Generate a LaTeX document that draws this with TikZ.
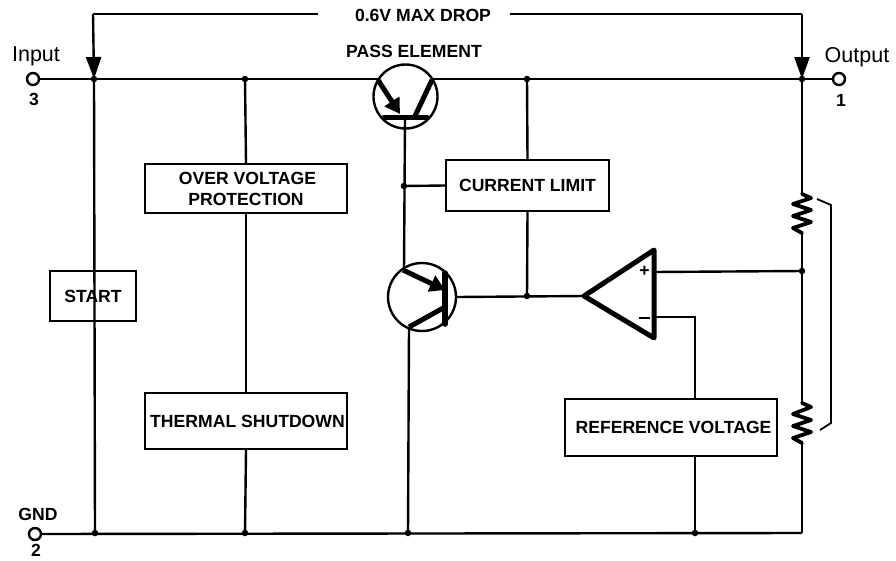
\documentclass[tikz,border=0pt]{standalone}
\usepackage{fontspec}
\setmainfont{Liberation Sans}
\usetikzlibrary{arrows.meta}
\tikzset{
  wire/.style={line width=2.4pt},
  boxed/.style={draw,line width=2.4pt,fill=white,align=center,font=\fontsize{17.6}{21}\selectfont\bfseries,inner sep=0pt},
  lbl/.style={font=\fontsize{17.6}{21}\selectfont\bfseries,inner sep=0pt},
  plain/.style={font=\fontsize{21.5}{24}\selectfont,inner sep=0pt},
  pin/.style={circle,draw,line width=2.4pt,fill=white,minimum size=12pt,inner sep=0pt},
  jn/.style={circle,fill=black,minimum size=6.5pt,inner sep=0pt},
  heavy/.style={line width=5pt},
  res/.style={line width=3.8pt,line join=round,line cap=round},
  tip/.style={-{Triangle[length=22pt,width=15pt]}}
}
\begin{document}
\begin{tikzpicture}[x=1pt,y=-1pt]
\useasboundingbox (0,0) rectangle (896,560);
% coordinates
\coordinate (jIn) at (94,79);
\coordinate (jOv) at (245,79);
\coordinate (jCl) at (527,79);
\coordinate (jOut) at (802,79);
\coordinate (jBase) at (404,186);
\coordinate (jAmp) at (527,296);
\coordinate (jPlus) at (802,271);
\coordinate (gStart) at (95,533);
\coordinate (gOv) at (245,533);
\coordinate (gQ) at (408,533);
\coordinate (gRef) at (695,533);
\coordinate (gEnd) at (802,533);
\coordinate (tL) at (93,14);
\coordinate (tR) at (802,14);
\coordinate (tA) at (318,14);
\coordinate (tB) at (510,14);
% pins
\node[pin] (pIn) at (33,79) {};
\node[pin] (pOut) at (839,79) {};
\node[pin] (pGnd) at (35,534) {};
% boxes
\node[boxed,minimum width=86pt,minimum height=50pt] (start) at (93,296) {START};
\node[boxed,minimum width=202pt,minimum height=49pt] (ovp) at (246,188.5) {\kern3pt OVER VOLTAGE\\PROTECTION};
\node[boxed,minimum width=202pt,minimum height=56pt] (thermal) at (246,421) {\kern3pt THERMAL SHUTDOWN};
\node[boxed,minimum width=163pt,minimum height=51pt] (climit) at (527.5,185.5) {CURRENT LIMIT};
\node[boxed,minimum width=212pt,minimum height=57pt] (vref) at (671,427.5) {\kern5pt REFERENCE VOLTAGE};
% transistors
\node[circle,draw,line width=2.4pt,minimum size=64pt,inner sep=0pt] (q1) at (405.5,96.5) {};
\node[circle,draw,line width=2.4pt,minimum size=68pt,inner sep=0pt] (q2) at (422,297) {};
% amplifier
\coordinate (aTop) at (654,250);
\coordinate (aBot) at (654,338);
\coordinate (aApex) at (584,296);
\coordinate (aP) at (654,272);
\coordinate (aM) at (654,317);
% transistor 1 points
\coordinate (b1) at (405,117);
\coordinate (e1a) at (378,80);
\coordinate (e1b) at (400,114);
\coordinate (c1a) at (415,116);
\coordinate (c1b) at (432,80);
% main wires
\draw[wire] (pIn) -- (jIn) -- (e1a |- jIn);
\draw[wire] (c1b |- jCl) -- (jCl) -- (jOut) -- (pOut);
\draw[wire] (pGnd) -- (gEnd);
\draw[wire] (jIn) -- (gStart);
\draw[wire] (jOv) -- (ovp.north);
\draw[wire] (ovp.south) -- (thermal.north);
\draw[wire] (thermal.south) -- (gOv);
\draw[wire] (jCl) -- (climit.north);
\draw[wire] (climit.south) -- (jAmp);
\draw[wire] (jBase) -- (climit.west);
\draw[wire] (q2.east) -- (aApex);
\draw[wire] (aP) -- (jPlus);
\draw[wire] (aM) -| (vref.north -| gRef);
\draw[wire] (vref.south -| gRef) -- (gRef);
% top measurement
\draw[wire] (tA) -- (tL);
\draw[wire] (tB) -- (tR);
\draw[wire,tip] (tL) -- (jIn);
\draw[wire,tip] (tR) -- (jOut);
\node[lbl] (drop) at (423,15) {0.6V MAX DROP};
% transistor 1 internals
\draw[heavy,line cap=round] (384,117) -- (427,117);
\draw[heavy,-{Triangle[length=15pt,width=17pt]}] (e1a) -- (e1b);
\draw[heavy] (c1a) -- (c1b);
\draw[wire] (b1) -- (404,270);
% transistor 2 internals
\coordinate (e2a) at (403,270);
\coordinate (e2b) at (445,290);
\coordinate (c2a) at (445,307);
\coordinate (c2b) at (409,327);
\draw[heavy,line width=5.5pt,line cap=round] (445,273) -- (445,324);
\draw[heavy,-{Triangle[length=15pt,width=17pt]}] (e2a) -- (e2b);
\draw[heavy] (c2a) -- (c2b);
\draw[wire] (c2b) -- (gQ);
% op amp
\draw[line width=5pt,line join=round,fill=white] (aApex) -- (aTop) -- (aBot) -- cycle;
\node[lbl] (plus) at (644.5,271) {+};
\draw[line width=1.8pt] (639,318) -- (650,318);
% right rail with resistors
\draw[wire] (jOut) -- (802,194);
\draw[wire] (802,233) -- (802,403);
\draw[wire] (802,443) -- (gEnd);
\draw[res] (802,194) -- (811,198) -- (793,204) -- (811,210) -- (793,216) -- (811,222) -- (793,228) -- (802,233);
\draw[res] (802,403) -- (811,407) -- (793,414) -- (811,420) -- (793,426) -- (811,432) -- (793,438) -- (802,443);
% bracket
\draw[line width=1.8pt] (817,199) -- (831,205) -- (831,423) -- (820,430);
% junction dots
\foreach \j in {jIn,jOv,jCl,jOut,jBase,jAmp,jPlus,gStart,gOv,gQ,gRef}
  \node[jn] at (\j) {};
% labels
\node[lbl] (pass) at (414,51) {PASS ELEMENT};
\node[plain] (li) at (36,56) {Input};
\node[plain] (lo) at (857,57) {Output};
\node[lbl] (n3) at (34,99) {3};
\node[lbl] (n1) at (841,100) {1};
\node[lbl] (lg) at (38,514) {GND};
\node[lbl] (n2) at (36,550) {2};
\end{tikzpicture}
\end{document}
